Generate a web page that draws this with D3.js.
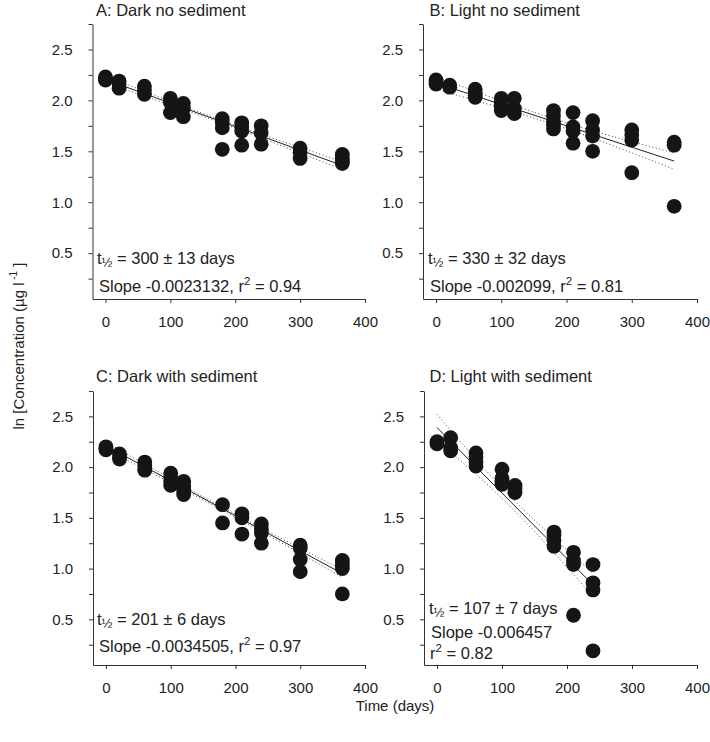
<!DOCTYPE html>
<html>
<head>
<meta charset="utf-8">
<script src="https://cdn.jsdelivr.net/npm/d3@7"></script>
<style>
  body { margin: 0; background: #fff; }
  svg { display: block; font-family: "Liberation Sans", Arial, sans-serif; }
  .axis path, .axis line { stroke: #333; stroke-width: 1; }
  .axis text { fill: #222; font-size: 15px; font-family: "Liberation Sans", Arial, sans-serif; }
</style>
</head>
<body>
<svg id="chart" width="710" height="742"></svg>
<script>
// ---------------- data ----------------
const panelTitles = ["A: Dark no sediment", "B: Light no sediment", "C: Dark with sediment", "D: Light with sediment"];
const xTicks = [0, 100, 200, 300, 400];
const yTicks = [0.5, 1.0, 1.5, 2.0, 2.5];
const yMinorTicks = [0.25, 0.75, 1.25, 1.75, 2.25, 2.75];

const daysABC = [0, 21, 60, 100, 120, 180, 210, 240, 300, 365];
const daysD = [0, 21, 60, 100, 120, 180, 210, 240];

const valuesA = [[2.23,2.21,2.20],[2.19,2.16,2.12],[2.14,2.10,2.06],[2.02,1.98,1.88],[1.97,1.92,1.84],
  [1.82,1.78,1.73,1.52],[1.78,1.74,1.70,1.56],[1.75,1.68,1.57],[1.53,1.49,1.43],[1.47,1.43,1.40,1.38]];
const valuesB = [[2.20,2.18,2.16],[2.15,2.13],[2.11,2.08,2.05,2.03],[2.02,1.98,1.94,1.90],[2.02,1.92,1.87],
  [1.90,1.85,1.79,1.76,1.72],[1.88,1.74,1.70,1.58],[1.80,1.71,1.65,1.50],[1.71,1.66,1.61,1.29],[1.59,1.56,0.96]];
const valuesC = [[2.20,2.18,2.17],[2.13,2.10,2.08],[2.05,2.02,1.99,1.97],[1.94,1.90,1.86,1.82],[1.86,1.81,1.77,1.73],
  [1.63,1.45],[1.54,1.50,1.34],[1.44,1.39,1.35,1.25],[1.23,1.20,1.09,0.97],[1.08,1.04,1.00,0.75]];
const valuesD = [[2.25,2.23],[2.29,2.19,2.16],[2.14,2.10,2.05,2.01],[1.98,1.89,1.86,1.83],[1.82,1.79,1.75],
  [1.36,1.33,1.28,1.22],[1.16,1.08,1.04,0.54],[1.04,0.86,0.79,0.19]];

// regression line end points [day, value]
const fitA = [[0, 2.205], [365, 1.361]];
const fitB = [[0, 2.170], [365, 1.404]];
const fitC = [[0, 2.210], [365, 0.951]];
const fitD = [[0, 2.390], [240, 0.840]];

// 95% confidence bands
const bandDaysABC = [0, 60, 120, 180, 240, 300, 365];
const bandDaysD = [0, 40, 80, 120, 160, 200, 240];
const upperA = [2.240, 2.091, 1.944, 1.803, 1.668, 1.538, 1.399];
const lowerA = [2.170, 2.041, 1.910, 1.775, 1.632, 1.484, 1.323];
const upperB = [2.230, 2.089, 1.950, 1.820, 1.701, 1.595, 1.484];
const lowerB = [2.110, 1.999, 1.886, 1.764, 1.631, 1.485, 1.324];
const upperC = [2.245, 2.028, 1.814, 1.604, 1.400, 1.201, 0.987];
const lowerC = [2.175, 1.978, 1.778, 1.574, 1.364, 1.149, 0.915];
const upperD = [2.520, 2.222, 1.933, 1.665, 1.417, 1.184, 0.955];
const lowerD = [2.260, 2.042, 1.813, 1.565, 1.297, 1.014, 0.725];

const halfLives = ["300 ± 13 days", "330 ± 32 days", "201 ± 6 days", "107 ± 7 days"];
const slopes = ["-0.0023132", "-0.002099", "-0.0034505", "-0.006457"];
const r2s = ["0.94", "0.81", "0.97", "0.82"];

// ---------------- layout ----------------
const svg = d3.select("#chart");
const FS = 16.5;
const boxes = [
  {x0: 92.5, x1: 365, y0: 24, y1: 299, tx: 96, ty: 15.5, ax: 97, at: 264, as: 292, ar: null},
  {x0: 423, x1: 697, y0: 24, y1: 299, tx: 429.5, ty: 15.5, ax: 428, at: 264, as: 292, ar: null},
  {x0: 93, x1: 365, y0: 391, y1: 665, tx: 96, ty: 381.5, ax: 97, at: 625, as: 652, ar: null},
  {x0: 424, x1: 697, y0: 391, y1: 665, tx: 429.5, ty: 381.5, ax: 429, at: 614, as: 638, ar: 659}
];
const panelData = [
  {days: daysABC, vals: valuesA, fit: fitA, bd: bandDaysABC, up: upperA, lo: lowerA},
  {days: daysABC, vals: valuesB, fit: fitB, bd: bandDaysABC, up: upperB, lo: lowerB},
  {days: daysABC, vals: valuesC, fit: fitC, bd: bandDaysABC, up: upperC, lo: lowerC},
  {days: daysD, vals: valuesD, fit: fitD, bd: bandDaysD, up: upperD, lo: lowerD}
];

boxes.forEach((b, i) => {
  const pd = panelData[i];
  const x = d3.scaleLinear().domain([-20, 400]).range([b.x0, b.x1]);
  const y = d3.scaleLinear().domain([0.05, 2.75]).range([b.y1, b.y0]);
  const g = svg.append("g");

  // axes
  g.append("g").attr("class", "axis").attr("transform", `translate(0,${b.y1})`)
    .call(d3.axisBottom(x).tickValues(xTicks).tickSize(4).tickSizeOuter(0).tickPadding(13).tickFormat(d3.format("d")));
  g.append("g").attr("class", "axis").attr("transform", `translate(${b.x0},0)`)
    .call(d3.axisLeft(y).tickValues(yTicks).tickSize(4).tickSizeOuter(0).tickPadding(16).tickFormat(d3.format(".1f")));
  g.append("g").attr("class", "axis").attr("transform", `translate(${b.x0},0)`)
    .call(d3.axisLeft(y).tickValues(yMinorTicks).tickSize(4).tickSizeOuter(0).tickFormat(""))
    .select(".domain").remove();

  // confidence bands
  const lineGen = d3.line().x(d => x(d[0])).y(d => y(d[1])).curve(d3.curveMonotoneX);
  [pd.up, pd.lo].forEach(arr => {
    g.append("path").datum(pd.bd.map((d, k) => [d, arr[k]]))
      .attr("d", lineGen).attr("fill", "none").attr("stroke", "#444")
      .attr("stroke-width", 1).attr("stroke-dasharray", "1,2.5");
  });
  // regression line
  g.append("path").datum(pd.fit).attr("d", d3.line().x(d => x(d[0])).y(d => y(d[1])))
    .attr("fill", "none").attr("stroke", "#222").attr("stroke-width", 1);

  // points
  const pts = [];
  pd.days.forEach((d, k) => pd.vals[k].forEach(v => pts.push([d, v])));
  g.selectAll("circle.pt").data(pts).enter().append("circle")
    .attr("class", "pt").attr("cx", d => x(d[0])).attr("cy", d => y(d[1]))
    .attr("r", 7.4).attr("fill", "#151515");

  // title
  g.append("text").attr("x", b.tx).attr("y", b.ty).attr("font-size", FS).attr("fill", "#222").text(panelTitles[i]);

  // annotation: half-life
  const t = g.append("text").attr("x", b.ax).attr("y", b.at).attr("font-size", FS).attr("fill", "#222");
  t.append("tspan").text("t");
  t.append("tspan").attr("font-size", 13).attr("dy", 3).text("½");
  t.append("tspan").attr("dy", -3).text(" = " + halfLives[i]);

  // slope + r2
  const s = g.append("text").attr("x", b.ax + 2).attr("y", b.as).attr("font-size", FS).attr("fill", "#222");
  if (b.ar === null) {
    s.append("tspan").text("Slope " + slopes[i] + ", r");
    s.append("tspan").attr("font-size", 11.5).attr("dy", -7).text("2");
    s.append("tspan").attr("dy", 7).text(" = " + r2s[i]);
  } else {
    s.text("Slope " + slopes[i]);
    const r = g.append("text").attr("x", b.ax + 1).attr("y", b.ar).attr("font-size", FS).attr("fill", "#222");
    r.append("tspan").text("r");
    r.append("tspan").attr("font-size", 11.5).attr("dy", -7).text("2");
    r.append("tspan").attr("dy", 7).text(" = " + r2s[i]);
  }
});

// axis titles
const yl = svg.append("text").attr("transform", "translate(24,346) rotate(-90)")
  .attr("text-anchor", "middle").attr("font-size", 15).attr("fill", "#222");
yl.append("tspan").text("ln [Concentration (µg l");
yl.append("tspan").attr("font-size", 10).attr("dy", -7).text(" -1");
yl.append("tspan").attr("dy", 7).text(" ]");

svg.append("text").attr("x", 395).attr("y", 711).attr("text-anchor", "middle")
  .attr("font-size", 15).attr("fill", "#222").text("Time (days)");
</script>
</body>
</html>
